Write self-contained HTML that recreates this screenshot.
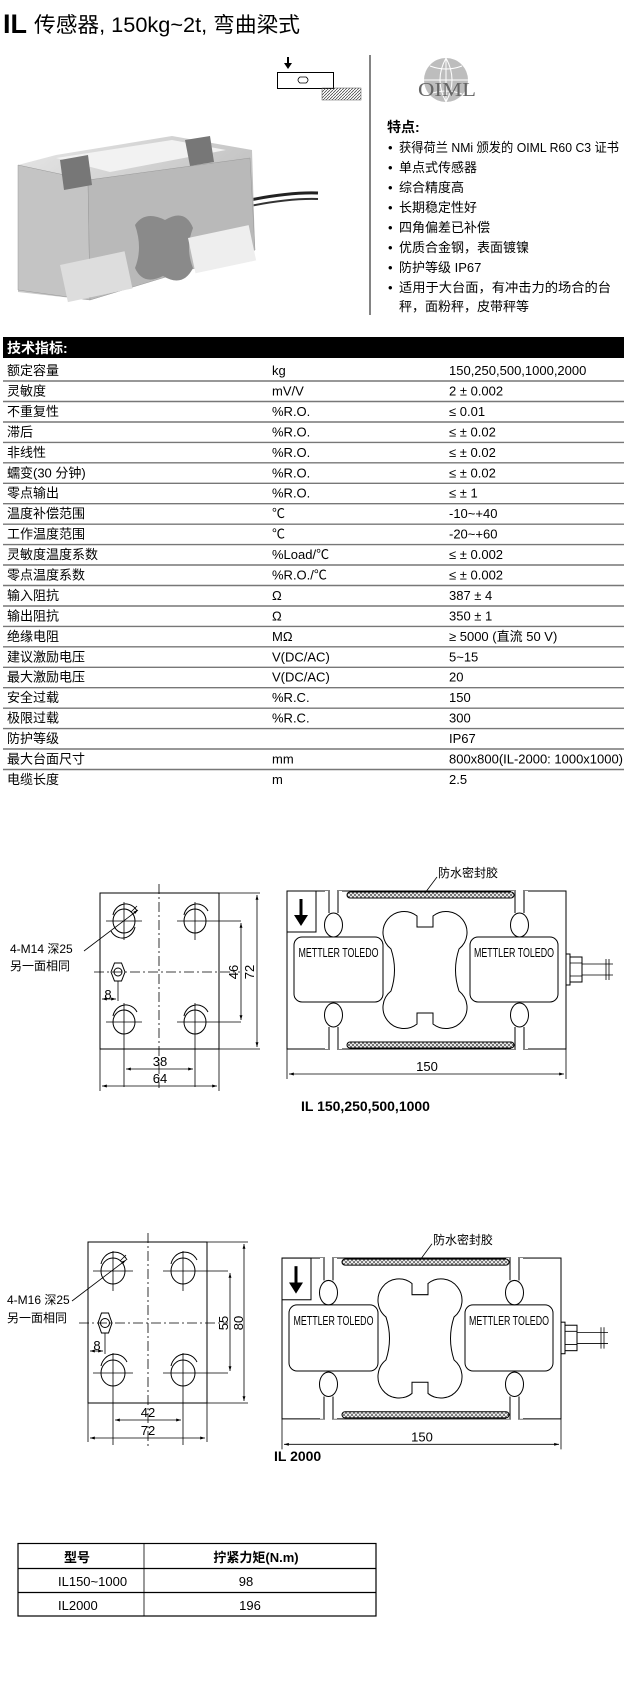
<!DOCTYPE html>
<html><head><meta charset="utf-8">
<style>
html,body{margin:0;padding:0;background:#fff;}
svg{display:block;}
text{font-family:"Liberation Sans Narrow","Liberation Sans","Noto Sans CJK SC",sans-serif;fill:#000;}
.cj{font-family:"Liberation Sans","Noto Sans CJK SC",sans-serif;}
</style></head><body>
<svg width="624" height="1701" viewBox="0 0 624 1701" xmlns="http://www.w3.org/2000/svg">
<defs>
<pattern id="hx" width="4" height="4" patternUnits="userSpaceOnUse">
<path d="M0,0L4,4M4,0L0,4" stroke="#444" stroke-width="0.7"/>
</pattern>
<pattern id="hd" width="3" height="3" patternUnits="userSpaceOnUse">
<path d="M0,3L3,0" stroke="#333" stroke-width="0.7"/>
</pattern>
<linearGradient id="met" x1="0" y1="0" x2="1" y2="1">
<stop offset="0" stop-color="#e8e8e8"/><stop offset="1" stop-color="#a9a9a9"/>
</linearGradient>
<marker id="ar" viewBox="0 0 10 10" refX="10" refY="5" markerWidth="6" markerHeight="6" orient="auto-start-reverse"><path d="M0,2L10,5L0,8z" fill="#000"/></marker>
</defs>

<!-- Title -->
<text x="3" y="33" font-size="27" font-weight="bold">IL</text>
<text x="34" y="32" font-size="21" class="cj" textLength="266" lengthAdjust="spacingAndGlyphs">传感器, 150kg~2t, 弯曲梁式</text>

<!-- small diagram -->
<path d="M288,57 V64" stroke="#000" stroke-width="2"/>
<path d="M284,63 L292,63 L288,69z" fill="#000"/>
<rect x="277.5" y="72.5" width="56" height="16" fill="#fff" stroke="#000"/>
<path d="M300,77 q-4,3 0,6 h6 q4,-3 0,-6z" fill="none" stroke="#000" stroke-width="0.8"/>
<rect x="322" y="88" width="39" height="12" fill="url(#hd)" stroke="#555" stroke-width="0.5"/>

<!-- divider -->
<line x1="370" y1="55" x2="370" y2="315" stroke="#333" stroke-width="1.2"/>

<!-- OIML -->
<circle cx="446" cy="80" r="22" fill="#bdbdbd"/>
<path d="M424,80h44M446,58v44M430,66q16,6 32,0M430,94q16,-6 32,0M446,58q-12,22 0,44M446,58q12,22 0,44" stroke="#fff" stroke-width="1" fill="none"/>
<text x="418" y="96" font-size="20" font-family="Liberation Serif,serif" fill="#666" textLength="58" lengthAdjust="spacingAndGlyphs" style="font-family:'Liberation Serif',serif;fill:#666">OIML</text>

<!-- features -->
<g class="cj" font-size="13">
<text x="387" y="132" font-weight="bold" font-size="14">特点:</text>
<g font-size="13">
<text x="388" y="152">•</text><text x="399" y="152" textLength="220" lengthAdjust="spacingAndGlyphs">获得荷兰 NMi 颁发的 OIML R60 C3 证书</text>
<text x="388" y="172">•</text><text x="399" y="172">单点式传感器</text>
<text x="388" y="192">•</text><text x="399" y="192">综合精度高</text>
<text x="388" y="212">•</text><text x="399" y="212">长期稳定性好</text>
<text x="388" y="232">•</text><text x="399" y="232">四角偏差已补偿</text>
<text x="388" y="252">•</text><text x="399" y="252">优质合金钢，表面镀镍</text>
<text x="388" y="272">•</text><text x="399" y="272">防护等级 IP67</text>
<text x="388" y="292">•</text><text x="399" y="292" textLength="212" lengthAdjust="spacingAndGlyphs">适用于大台面，有冲击力的场合的台</text>
<text x="399" y="311">秤，面粉秤，皮带秤等</text>
</g></g>

<!-- photo (simplified) -->
<g>
<path d="M250,200 Q290,192 318,193" stroke="#222" stroke-width="3" fill="none"/>
<path d="M250,206 Q290,198 318,199" stroke="#333" stroke-width="2" fill="none"/>
<polygon points="56,155 172,136 252,150 255,250 90,300 18,292 18,165" fill="url(#met)"/>
<polygon points="56,158 172,140 226,150 110,172" fill="#f2f2f2"/>
<polygon points="18,165 88,180 90,300 18,290" fill="#c4c4c4" stroke="#999" stroke-width="0.5"/>
<polygon points="88,180 250,158 255,250 90,300" fill="#b9b9b9" stroke="#999" stroke-width="0.5"/>
<path d="M135,225 q10,-15 30,-5 q20,-12 28,8 q-8,20 0,40 q-10,20 -30,8 q-20,10 -28,-8 q8,-20 0,-43z" fill="#8a8a8a"/>
<rect x="60" y="265" width="66" height="38" fill="#ddd" transform="rotate(-12 60 265)"/>
<rect x="188" y="238" width="62" height="36" fill="#eee" transform="rotate(-12 188 238)"/>
<polygon points="60,160 88,155 92,185 64,190" fill="#777"/>
<polygon points="185,140 210,136 214,162 190,166" fill="#777"/>
</g>

<!-- spec table -->
<rect x="3" y="337" width="621" height="21" fill="#000"/>
<text x="7" y="353" font-size="14" font-weight="bold" class="cj" style="fill:#fff">技术指标:</text>
<g stroke="#777" stroke-width="1.4">
<line x1="3" y1="381" x2="624" y2="381"/><line x1="3" y1="401.5" x2="624" y2="401.5"/><line x1="3" y1="422" x2="624" y2="422"/><line x1="3" y1="442.4" x2="624" y2="442.4"/><line x1="3" y1="462.8" x2="624" y2="462.8"/><line x1="3" y1="483.3" x2="624" y2="483.3"/><line x1="3" y1="503.7" x2="624" y2="503.7"/><line x1="3" y1="524.2" x2="624" y2="524.2"/><line x1="3" y1="544.6" x2="624" y2="544.6"/><line x1="3" y1="565" x2="624" y2="565"/><line x1="3" y1="585.5" x2="624" y2="585.5"/><line x1="3" y1="606" x2="624" y2="606"/><line x1="3" y1="626.4" x2="624" y2="626.4"/><line x1="3" y1="646.8" x2="624" y2="646.8"/><line x1="3" y1="667.3" x2="624" y2="667.3"/><line x1="3" y1="687.7" x2="624" y2="687.7"/><line x1="3" y1="708.2" x2="624" y2="708.2"/><line x1="3" y1="728.6" x2="624" y2="728.6"/><line x1="3" y1="749" x2="624" y2="749"/><line x1="3" y1="769.5" x2="624" y2="769.5"/>
</g>
<g font-size="13" class="cj">
<text x="7" y="375">额定容量</text><text x="272" y="375">kg</text><text x="449" y="375">150,250,500,1000,2000</text>
<text x="7" y="395.5">灵敏度</text><text x="272" y="395.5">mV/V</text><text x="449" y="395.5">2 ± 0.002</text>
<text x="7" y="416">不重复性</text><text x="272" y="416">%R.O.</text><text x="449" y="416">≤ 0.01</text>
<text x="7" y="436.4">滞后</text><text x="272" y="436.4">%R.O.</text><text x="449" y="436.4">≤ ± 0.02</text>
<text x="7" y="456.8">非线性</text><text x="272" y="456.8">%R.O.</text><text x="449" y="456.8">≤ ± 0.02</text>
<text x="7" y="477.3">蠕变(30 分钟)</text><text x="272" y="477.3">%R.O.</text><text x="449" y="477.3">≤ ± 0.02</text>
<text x="7" y="497.7">零点输出</text><text x="272" y="497.7">%R.O.</text><text x="449" y="497.7">≤ ± 1</text>
<text x="7" y="518.2">温度补偿范围</text><text x="272" y="518.2">℃</text><text x="449" y="518.2">-10~+40</text>
<text x="7" y="538.6">工作温度范围</text><text x="272" y="538.6">℃</text><text x="449" y="538.6">-20~+60</text>
<text x="7" y="559">灵敏度温度系数</text><text x="272" y="559">%Load/℃</text><text x="449" y="559">≤ ± 0.002</text>
<text x="7" y="579.5">零点温度系数</text><text x="272" y="579.5">%R.O./℃</text><text x="449" y="579.5">≤ ± 0.002</text>
<text x="7" y="600">输入阻抗</text><text x="272" y="600">Ω</text><text x="449" y="600">387 ± 4</text>
<text x="7" y="620.4">输出阻抗</text><text x="272" y="620.4">Ω</text><text x="449" y="620.4">350 ± 1</text>
<text x="7" y="640.8">绝缘电阻</text><text x="272" y="640.8">MΩ</text><text x="449" y="640.8">≥ 5000 (直流 50 V)</text>
<text x="7" y="661.3">建议激励电压</text><text x="272" y="661.3">V(DC/AC)</text><text x="449" y="661.3">5~15</text>
<text x="7" y="681.7">最大激励电压</text><text x="272" y="681.7">V(DC/AC)</text><text x="449" y="681.7">20</text>
<text x="7" y="702.2">安全过载</text><text x="272" y="702.2">%R.C.</text><text x="449" y="702.2">150</text>
<text x="7" y="722.6">极限过载</text><text x="272" y="722.6">%R.C.</text><text x="449" y="722.6">300</text>
<text x="7" y="743">防护等级</text><text x="449" y="743">IP67</text>
<text x="7" y="763.5">最大台面尺寸</text><text x="272" y="763.5">mm</text><text x="449" y="763.5" textLength="174" lengthAdjust="spacingAndGlyphs">800x800(IL-2000: 1000x1000)</text>
<text x="7" y="784">电缆长度</text><text x="272" y="784">m</text><text x="449" y="784">2.5</text>
</g>

<!-- ===== Drawing 1 left ===== -->
<g transform="translate(100,893)" fill="none" stroke="#000" stroke-width="1">
<rect x="0" y="0" width="119" height="156"/>
<g>
<ellipse cx="24" cy="28" rx="11" ry="12"/><path d="M13,22 a13,14 0 0 1 24,-4" /><path d="M35,34 a13,14 0 0 1 -24,4"/>
<ellipse cx="95" cy="28" rx="11" ry="12"/><path d="M84,22 a13,14 0 0 1 24,-4"/>
<ellipse cx="24" cy="129" rx="11" ry="12"/><path d="M13,123 a13,14 0 0 1 24,-4"/>
<ellipse cx="95" cy="129" rx="11" ry="12"/><path d="M84,123 a13,14 0 0 1 24,-4"/>
</g>
<g stroke-width="0.8">
<path d="M6,28h36M24,9v38M77,28h64M95,9v38M6,129h36M24,110v84M77,129h64M95,110v84"/>
</g>
<path d="M59,-9V195" stroke-dasharray="10,3,2,3" stroke-width="0.8"/>
<path d="M-6,79H140" stroke-dasharray="10,3,2,3" stroke-width="0.8"/>
<polygon points="11,79 14.5,70 21.5,70 25,79 21.5,88 14.5,88"/>
<circle cx="18" cy="79" r="4"/>
<path d="M18,88V108" stroke-width="0.8"/>
<path d="M2,106H16" marker-start="url(#ar)" marker-end="url(#ar)" stroke-width="0.8"/>
<path d="M141,30V127" marker-start="url(#ar)" marker-end="url(#ar)" stroke-width="0.8"/>
<path d="M119,0H160M119,156H160" stroke-width="0.8"/>
<path d="M157,2V154" marker-start="url(#ar)" marker-end="url(#ar)" stroke-width="0.8"/>
<path d="M26,176H93" marker-start="url(#ar)" marker-end="url(#ar)" stroke-width="0.8"/>
<path d="M0,156V198M119,156V198" stroke-width="0.8"/>
<path d="M2,193H117" marker-start="url(#ar)" marker-end="url(#ar)" stroke-width="0.8"/>
<path d="M-16,58L38,17" marker-end="url(#ar)" stroke-width="0.8"/>
<path d="M31,19L37,13" stroke-width="0.8"/>
</g>
<g font-size="13">
<text x="108" y="999" text-anchor="middle">8</text>
<text x="160" y="1066" text-anchor="middle">38</text>
<text x="160" y="1083" text-anchor="middle">64</text>
<text transform="translate(238,972) rotate(-90)" text-anchor="middle">46</text>
<text transform="translate(254,972) rotate(-90)" text-anchor="middle">72</text>
<text x="10" y="953" class="cj" font-size="12">4-M14 深25</text>
<text x="10" y="970" class="cj" font-size="12">另一面相同</text>
</g>

<!-- ===== Drawing 1 right ===== -->
<g id="rd1" transform="translate(287,891)">
<g fill="none" stroke="#000" stroke-width="1">
<rect x="0" y="0" width="279" height="158"/>
<rect x="0" y="0" width="29" height="41"/>
<path d="M42,0V22M51,0V22M228,0V22M237,0V22M42,158V136M51,158V136M228,158V136M237,158V136" stroke="#fff" stroke-width="8"/>
<path d="M42,0V22M51,0V22M228,0V22M237,0V22M42,158V136M51,158V136M228,158V136M237,158V136"/>
<ellipse cx="46.5" cy="34" rx="9" ry="12" fill="#fff"/>
<ellipse cx="232.5" cy="34" rx="9" ry="12" fill="#fff"/>
<ellipse cx="46.5" cy="124" rx="9" ry="12" fill="#fff"/>
<ellipse cx="232.5" cy="124" rx="9" ry="12" fill="#fff"/>
<path d="M43,0h7M229,0h7M43,158h7M229,158h7" stroke="#fff" stroke-width="2"/>
<rect x="7" y="46" width="89" height="65" rx="8"/>
<rect x="183" y="46" width="88" height="65" rx="8"/>
<path d="M130,25 L130,36 L146,36 L146,25 A19 19 0 1 1 172,58 Q165,79 172,100 A19 19 0 1 1 146,133 L146,122 L130,122 L130,133 A19 19 0 1 1 104,100 Q111,79 104,58 A19 19 0 1 1 130,25 Z"/>
<rect x="60" y="1" width="167" height="6" rx="3" fill="url(#hx)"/>
<rect x="60" y="151" width="167" height="6" rx="3" fill="url(#hx)"/>
<rect x="279" y="63" width="4" height="31"/>
<rect x="283" y="66" width="12" height="25"/>
<path d="M283,72h12M283,85h12M295,73H326M295,84H326M319,68v21M322,68v21" stroke-width="0.8"/>
<path d="M0,158V188M279,158V188" stroke-width="0.8"/>
<path d="M2,183H277" marker-start="url(#ar)" marker-end="url(#ar)" stroke-width="0.8"/>
<path d="M150,-14L138,2" stroke-width="0.8"/>
</g>
<path d="M14,8V25" stroke="#000" stroke-width="3"/>
<path d="M7,24L21,24L14,35z" fill="#000"/>
<g font-size="13">
<text x="51.5" y="66" text-anchor="middle" textLength="80" lengthAdjust="spacingAndGlyphs">METTLER TOLEDO</text>
<text x="227" y="66" text-anchor="middle" textLength="80" lengthAdjust="spacingAndGlyphs">METTLER TOLEDO</text>
<text x="140" y="180" text-anchor="middle">150</text>
<text x="151" y="-14" font-size="12" class="cj">防水密封胶</text>
</g>
</g>
<text x="301" y="1111" font-size="14" font-weight="bold">IL 150,250,500,1000</text>

<!-- ===== Drawing 2 left ===== -->
<g transform="translate(88,1242)" fill="none" stroke="#000" stroke-width="1">
<rect x="0" y="0" width="119" height="161"/>
<g>
<ellipse cx="25" cy="29" rx="12" ry="13"/><path d="M13,22 a14,15 0 0 1 26,-4"/>
<ellipse cx="95" cy="29" rx="12" ry="13"/><path d="M83,22 a14,15 0 0 1 26,-4"/>
<ellipse cx="25" cy="131" rx="12" ry="13"/><path d="M13,124 a14,15 0 0 1 26,-4"/>
<ellipse cx="95" cy="131" rx="12" ry="13"/><path d="M83,124 a14,15 0 0 1 26,-4"/>
</g>
<g stroke-width="0.8">
<path d="M5,29h40M25,9v40M75,29h65M95,9v40M5,131h40M25,111v92M75,131h65M95,111v92"/>
</g>
<path d="M60,-9V206" stroke-dasharray="10,3,2,3" stroke-width="0.8"/>
<path d="M-9,81H140" stroke-dasharray="10,3,2,3" stroke-width="0.8"/>
<polygon points="10,81 13.5,71 20.5,71 24,81 20.5,91 13.5,91"/>
<circle cx="17" cy="81" r="4.5"/>
<path d="M17,91V112" stroke-width="0.8"/>
<path d="M2,109H15" marker-start="url(#ar)" marker-end="url(#ar)" stroke-width="0.8"/>
<path d="M142,31V129" marker-start="url(#ar)" marker-end="url(#ar)" stroke-width="0.8"/>
<path d="M119,0H160M119,161H160" stroke-width="0.8"/>
<path d="M156,2V159" marker-start="url(#ar)" marker-end="url(#ar)" stroke-width="0.8"/>
<path d="M27,178H93" marker-start="url(#ar)" marker-end="url(#ar)" stroke-width="0.8"/>
<path d="M0,161V200M119,161V200" stroke-width="0.8"/>
<path d="M2,196H117" marker-start="url(#ar)" marker-end="url(#ar)" stroke-width="0.8"/>
<path d="M-16,59L38,18" marker-end="url(#ar)" stroke-width="0.8"/>
<path d="M32,19L38,13" stroke-width="0.8"/>
</g>
<g font-size="13">
<text x="97" y="1350" text-anchor="middle">8</text>
<text x="148" y="1417" text-anchor="middle">42</text>
<text x="148" y="1435" text-anchor="middle">72</text>
<text transform="translate(228,1323) rotate(-90)" text-anchor="middle">55</text>
<text transform="translate(243,1323) rotate(-90)" text-anchor="middle">80</text>
<text x="7" y="1304" class="cj" font-size="12">4-M16 深25</text>
<text x="7" y="1322" class="cj" font-size="12">另一面相同</text>
</g>

<!-- ===== Drawing 2 right ===== -->
<use href="#rd1" transform="translate(-5,351) scale(1,1.018)"/>
<text x="274" y="1461" font-size="14" font-weight="bold">IL 2000</text>

<!-- bottom table -->
<g fill="none" stroke="#000">
<rect x="18" y="1543.5" width="358" height="72.5" stroke-width="1.2"/>
<line x1="18" y1="1568.5" x2="376" y2="1568.5" stroke-width="1.2"/>
<line x1="18" y1="1592.5" x2="376" y2="1592.5" stroke-width="1.2"/>
<line x1="144" y1="1543.5" x2="144" y2="1616" stroke-width="0.8"/>
</g>
<g font-size="13" class="cj">
<text x="77" y="1562" text-anchor="middle" font-weight="bold">型号</text>
<text x="256" y="1562" text-anchor="middle" font-weight="bold">拧紧力矩(N.m)</text>
<text x="58" y="1586">IL150~1000</text>
<text x="246" y="1586" text-anchor="middle">98</text>
<text x="58" y="1610">IL2000</text>
<text x="250" y="1610" text-anchor="middle">196</text>
</g>
</svg>
</body></html>
